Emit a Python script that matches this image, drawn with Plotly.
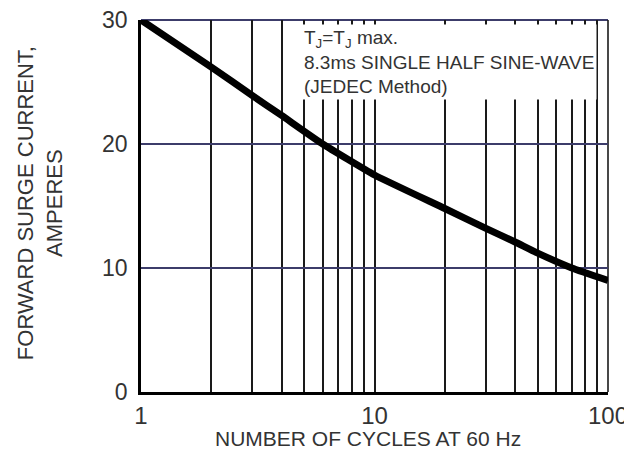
import plotly.graph_objects as go

# Data
cycles = [1, 2, 3, 4, 6, 10, 20, 30, 40, 50, 70, 100]
surge_current = [30, 26.2, 23.9, 22.3, 20.0, 17.5, 14.8, 13.2, 12.1, 11.2, 10.0, 9.0]

x_grid_vals = [1, 2, 3, 4, 5, 6, 7, 8, 9, 10, 20, 30, 40, 50, 60, 70, 80, 90, 100]
x_grid_text = ["1", "", "", "", "", "", "", "", "", "10", "", "", "", "", "", "", "", "", "100"]
y_tick_vals = [0, 10, 20, 30]
y_tick_text = ["0", "10", "20", "30"]

FONT = "Liberation Sans, Arial, sans-serif"
TXT = "#333333"
GRID_V = "#1a1a1a"
GRID_H = "#3c3c6a"

fig = go.Figure()
fig.add_trace(go.Scatter(
    x=cycles, y=surge_current, mode="lines",
    line=dict(color="#000000", width=7, shape="spline", smoothing=0.4),
    hoverinfo="skip", showlegend=False,
))

# page body has an 8px default margin, so the figure is sized to fit the window
fig.update_layout(
    width=624, height=454,
    margin=dict(l=133, r=24, t=12, b=70, autoexpand=False),
    paper_bgcolor="white", plot_bgcolor="white",
    font=dict(family=FONT, color=TXT),
    showlegend=False,
)

fig.update_xaxes(
    type="log", range=[0, 2], automargin=False,
    tickmode="array", tickvals=x_grid_vals, ticktext=x_grid_text,
    showgrid=True, gridcolor=GRID_V, gridwidth=1.6,
    showline=True, linecolor="#000000", linewidth=2.5,
    ticks="", ticklabeloverflow="allow",
    tickfont=dict(size=24, color=TXT, family=FONT),
    zeroline=False,
)
fig.update_yaxes(
    range=[0, 30], automargin=False,
    tickmode="array", tickvals=y_tick_vals, ticktext=y_tick_text,
    showgrid=True, gridcolor=GRID_H, gridwidth=2,
    showline=True, linecolor="#000000", linewidth=2.5,
    ticks="", ticklabelstandoff=6, ticklabeloverflow="allow",
    tickfont=dict(size=23, color=TXT, family=FONT),
    zeroline=False,
)

# frame lines on the top and right edges of the plot area
fig.add_shape(type="line", xref="paper", yref="paper", x0=0, x1=1, y0=1, y1=1,
              line=dict(color=GRID_H, width=2), layer="below")
fig.add_shape(type="line", xref="paper", yref="paper", x0=1, x1=1, y0=0, y1=1,
              line=dict(color=GRID_V, width=1.6), layer="below")

# note box with white background covering grid lines
fig.add_annotation(
    xref="paper", yref="paper", x=0.342, y=0.988,
    xanchor="left", yanchor="top", align="left", showarrow=False,
    text="T<sub>J</sub>=T<sub>J</sub> max.<br>8.3ms SINGLE HALF SINE-WAVE<br>(JEDEC Method)",
    font=dict(size=19, color=TXT, family=FONT),
    bgcolor="white", borderpad=2,
)

# axis titles
fig.add_annotation(
    xref="paper", yref="paper", x=-0.216, y=0.508,
    xanchor="center", yanchor="middle", showarrow=False, textangle=-90,
    text="FORWARD SURGE CURRENT,<br>AMPERES",
    font=dict(size=22, color=TXT, family=FONT),
)
fig.add_annotation(
    xref="paper", yref="paper", x=0.486, y=-0.124,
    xanchor="center", yanchor="middle", showarrow=False,
    text="NUMBER OF CYCLES AT 60 Hz",
    font=dict(size=21, color=TXT, family=FONT),
)

fig.write_html("out.html")
